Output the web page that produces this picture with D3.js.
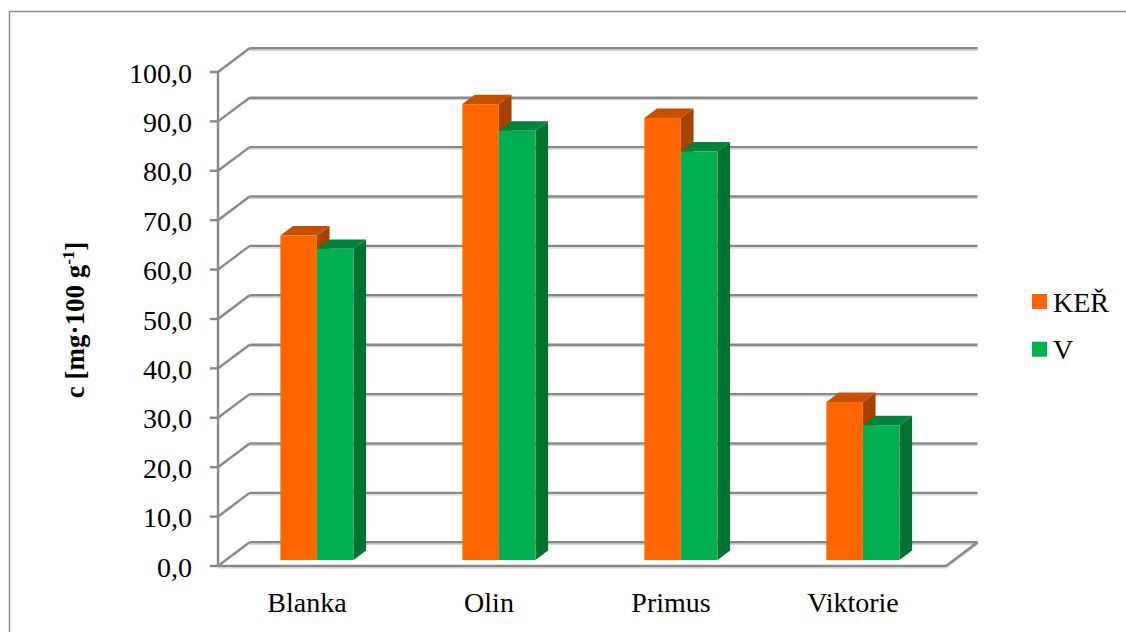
<!DOCTYPE html>
<html>
<head>
<meta charset="utf-8">
<script src="https://cdn.jsdelivr.net/npm/d3@7"></script>
<style>
  html, body { margin: 0; padding: 0; background: #fff; }
  svg { display: block; }
  text { font-family: "Liberation Serif", "Times New Roman", serif; fill: #000; }
</style>
</head>
<body>
<svg id="chart" width="1126" height="632"></svg>
<script>
// Varieties and the two series (vitamin C content, mg per 100 g)
const categories = ["Blanka", "Olin", "Primus", "Viktorie"];
const seriesNames = ["KEŘ", "V"];
const kerValues = [65.7, 92.3, 89.5, 32.0];
const vValues = [63.0, 86.9, 82.7, 27.3];
const yTicks = [0, 10, 20, 30, 40, 50, 60, 70, 80, 90, 100];
const yTitle = "c [mg·100 g";

const svg = d3.select("#chart");

// Outer chart frame
svg.append("rect")
  .attr("x", 9.5).attr("y", 11.5)
  .attr("width", 1140).attr("height", 640)
  .attr("fill", "none").attr("stroke", "#8c8c8c").attr("stroke-width", 1.5);

// 3D projection: depth 0 = front plane, depth 1 = back wall
const DX = 31.6, DY = -23.7;
const frontLeft = 218, frontRight = 946;
const y = d3.scaleLinear().domain([0, 100]).range([566, 72]);
const x0 = d3.scaleBand().domain(categories).range([frontLeft, frontRight]).padding(0);
const x1 = d3.scaleBand().domain(seriesNames).range([0, x0.bandwidth()])
  .paddingInner(0).paddingOuter(1.49);
const proj = (px, py, d) => [px + d * DX, py + d * DY];

const gridColor = "#888888";
const shadowColor = "#d4d4d4";
const g = svg.append("g");

function line3(points, withShadow) {
  const l = d3.line();
  if (withShadow) {
    g.append("path").attr("d", l(points.map(p => [p[0], p[1] + 2])))
      .attr("fill", "none").attr("stroke", shadowColor).attr("stroke-width", 1.2);
  }
  g.append("path").attr("d", l(points))
    .attr("fill", "none").attr("stroke", gridColor).attr("stroke-width", 2.4)
    .attr("stroke-linejoin", "miter");
}

// Back wall gridlines + side-wall diagonals + tick marks
yTicks.forEach(t => {
  const yf = y(t);
  const back0 = proj(frontLeft, yf, 1);
  const back1 = proj(frontRight, yf, 1);
  line3([back0, back1], true);
  line3([[frontLeft, yf], back0], false);
  line3([[frontLeft - 8, yf], [frontLeft, yf]], false);
});

// Front vertical axis
line3([[frontLeft, y(100)], [frontLeft, y(0)]], false);

// Floor front edge and right edge
line3([[frontLeft, y(0)], [frontRight, y(0)], proj(frontRight, y(0), 1)], true);

// Bars (front face, top, right side)
const barFront = 0.25, barDepth = 0.4;
const palette = {
  "KEŘ": { front: "#FF6600", top: "#C55000", side: "#A54300" },
  "V":   { front: "#00B050", top: "#00843C", side: "#00722F" }
};
const series = [
  { name: "KEŘ", values: kerValues },
  { name: "V", values: vValues }
];

const bars = g.append("g");
categories.forEach((c, i) => {
  series.forEach(s => {
    const v = s.values[i];
    const col = palette[s.name];
    const left = x0(c) + x1(s.name);
    const w = x1.bandwidth();
    const [xa, ya0] = proj(left, y(0), barFront);
    const [, yat] = proj(left, y(v), barFront);
    const ddx = barDepth * DX, ddy = barDepth * DY;
    // side
    bars.append("path")
      .attr("d", d3.line()([[xa + w, yat], [xa + w + ddx, yat + ddy], [xa + w + ddx, ya0 + ddy], [xa + w, ya0]]) + "Z")
      .attr("fill", col.side);
    // top
    bars.append("path")
      .attr("d", d3.line()([[xa, yat], [xa + w, yat], [xa + w + ddx, yat + ddy], [xa + ddx, yat + ddy]]) + "Z")
      .attr("fill", col.top);
    // front
    bars.append("rect")
      .attr("x", xa).attr("y", yat)
      .attr("width", w).attr("height", ya0 - yat)
      .attr("fill", col.front);
  });
});

// Y tick labels
svg.append("g").selectAll("text").data(yTicks).join("text")
  .attr("x", 192).attr("y", t => y(t) + 10.5)
  .attr("text-anchor", "end")
  .attr("font-size", 28)
  .text(t => d3.format(".1f")(t).replace(".", ","));

// Category labels
svg.append("g").selectAll("text").data(categories).join("text")
  .attr("x", c => x0(c) + x0.bandwidth() / 2 - 2)
  .attr("y", 612)
  .attr("text-anchor", "middle")
  .attr("font-size", 28)
  .text(c => c);

// Axis title
const title = svg.append("text")
  .attr("transform", "translate(84,320) rotate(-90)")
  .attr("text-anchor", "middle")
  .attr("font-size", 27)
  .attr("font-weight", "bold");
title.append("tspan").text(yTitle);
title.append("tspan").attr("dy", -10).attr("font-size", 17).text("-1");
title.append("tspan").attr("dy", 10).text("]");

// Legend
const legend = svg.append("g");
series.forEach((s, i) => {
  const ly = 294 + i * 47.7;
  legend.append("rect")
    .attr("x", 1032).attr("y", ly).attr("width", 15).attr("height", 15)
    .attr("fill", palette[s.name].front);
  legend.append("text")
    .attr("x", 1053).attr("y", ly + 17.7)
    .attr("font-size", 28)
    .text(s.name);
});
</script>
</body>
</html>
